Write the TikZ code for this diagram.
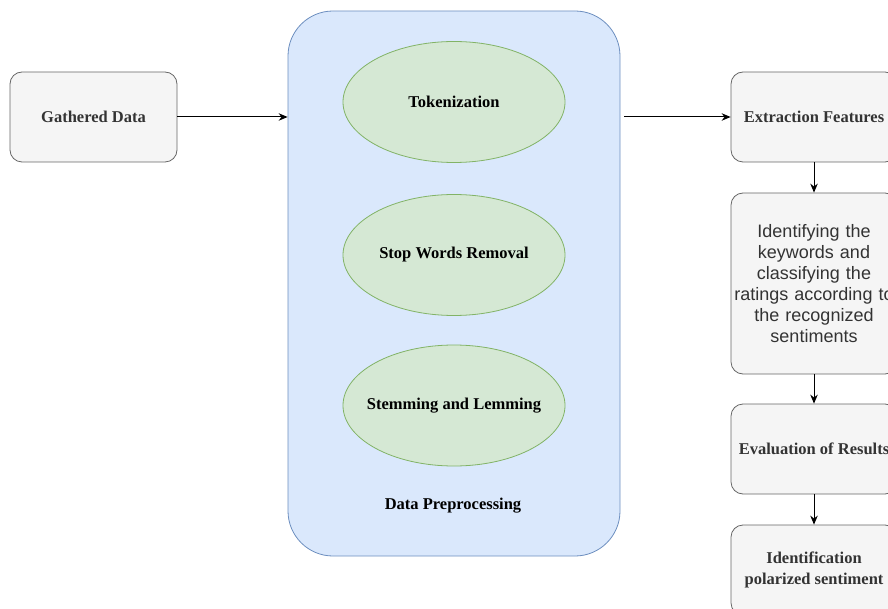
\documentclass[tikz,border=0pt]{standalone}
\usepackage{fontspec}
\setmainfont{Liberation Serif}
\setsansfont{Liberation Sans}
\usetikzlibrary{arrows.meta,positioning,shapes.geometric}
\definecolor{boxfill}{HTML}{F5F5F5}
\definecolor{boxline}{HTML}{666666}
\definecolor{boxtext}{HTML}{333333}
\definecolor{prepfill}{HTML}{DAE8FC}
\definecolor{prepline}{HTML}{6C8EBF}
\definecolor{stagefill}{HTML}{D5E8D4}
\definecolor{stageline}{HTML}{82B366}

\begin{document}
\begin{tikzpicture}[>={Stealth[length=9pt,width=7.5pt]}, x=1pt, y=-1pt,
  card/.style={draw=boxline, fill=boxfill, line width=0.8pt, rounded corners=12pt,
    minimum width=166pt, minimum height=90pt, inner sep=0pt, align=center,
    text=boxtext, font=\fontsize{16.5}{21}\selectfont\bfseries},
  stage/.style={ellipse, draw=stageline, fill=stagefill, line width=0.8pt,
    minimum width=222pt, minimum height=121pt, inner ysep=0pt, inner xsep=-12pt,
    font=\fontsize{16.5}{21}\selectfont\bfseries},
  flow/.style={->, line width=1pt}]
\useasboundingbox (0,0) rectangle (888,609);
\clip (0,0) rectangle (888,609);
% the preprocessing block and its three stages
\node[draw=prepline, fill=prepfill, line width=0.8pt, rounded corners=45pt,
  minimum width=332pt, minimum height=545pt, inner sep=0pt] (prep) at (454,283.5) {};
\node[stage] (tok) at (454,102) {Tokenization};
\node[stage] (stop) at (454,255) {Stop Words Removal};
\node[stage] (stem) at (454,405.5) {Stemming and Lemming};
\node[font=\fontsize{16.5}{21}\selectfont\bfseries] (preplabel) at (453,506) {Data Preprocessing};
% input on the left
\node[card, minimum width=167pt] (gathered) at (93.5,117) {Gathered Data};
% the chain on the right
\node[card] (extract) at (814,117) {Extraction Features};
\node[card, minimum height=181pt, text width=166pt,
  font=\fontsize{18}{21}\selectfont\sffamily] (ident) at (814,283.5)
  {Identifying the\\ keywords and\\ classifying the\\ ratings according to\\ the recognized\\ sentiments};
\node[card] (evalres) at (814,449) {Evaluation of Results};
\node[card] (polar) at (814,570) {Identification\\ polarized sentiment};
% connectors
\draw[flow] (gathered.east) -- (gathered.east -| prep.west);
\draw[flow, shorten <=4pt] (extract.west -| prep.east) -- (extract.west);
\draw[flow] (extract.south) -- (ident.north);
\draw[flow] (ident.south) -- (evalres.north);
\draw[flow] (evalres.south) -- (polar.north);
\end{tikzpicture}
\end{document}
